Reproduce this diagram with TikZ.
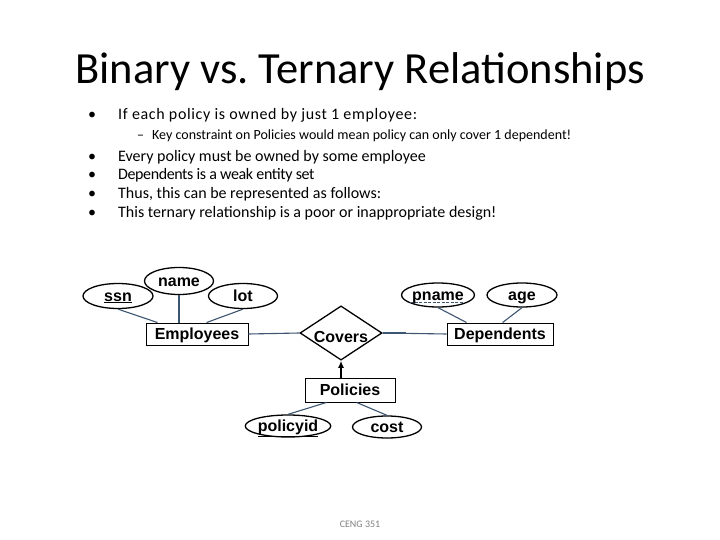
\documentclass[tikz,border=0pt]{standalone}
\usepackage{fontspec}
\setmainfont{Carlito}
\newfontfamily\erfont{Liberation Sans}
\usetikzlibrary{shapes.geometric,arrows.meta,calc}
\definecolor{conn}{RGB}{60,85,112}
\definecolor{footgray}{RGB}{128,128,128}
\tikzset{
  attr/.style={draw=black,line width=1.3pt,ellipse,inner sep=0pt,text height=12pt,text depth=2pt,font=\erfont\bfseries\fontsize{16}{18}\selectfont,minimum width=69pt,minimum height=25pt},
  entity/.style={draw=black,line width=0.9pt,rectangle,inner sep=0pt,text height=12pt,text depth=2pt,font=\erfont\bfseries\fontsize{16}{18}\selectfont,minimum height=22pt},
  rel/.style={draw=black,line width=1.3pt,diamond,inner sep=0pt,font=\erfont\bfseries\fontsize{16}{18}\selectfont,minimum width=82pt,minimum height=53pt},
  link/.style={draw=conn,line width=1.1pt},
  btext/.style={anchor=base west,inner sep=0pt,font=\fontsize{16}{18}\selectfont},
  stext/.style={anchor=base west,inner sep=0pt,font=\fontsize{14}{16}\selectfont},
}
\begin{document}
\begin{tikzpicture}[x=1pt,y=-1pt]
\useasboundingbox (0,0) rectangle (720,540);
% title
\node[anchor=base,inner sep=0pt,font=\fontsize{44.5}{48}\selectfont] (title) at (360,84) {Binary vs.\ Ternary Relationships};
% bullets
\node[btext] (b1d) at (88,120) {•};
\node[btext] (b1) at (118,120) {\addfontfeature{LetterSpace=4}If each policy is owned by just 1 employee:};
\node[stext] (s1d) at (137,140) {–};
\node[stext] (s1) at (152,140) {Key constraint on Policies would mean policy can only cover 1 dependent!};
\node[btext] (b2d) at (88,162) {•};
\node[btext] (b2) at (118,162) {Every policy must be owned by some employee};
\node[btext] (b3d) at (88,180) {•};
\node[btext] (b3) at (118,180) {\addfontfeature{LetterSpace=-2.5}Dependents is a weak entity set};
\node[btext] (b4d) at (88,199) {•};
\node[btext] (b4) at (118,199) {Thus, this can be represented as follows:};
\node[btext] (b5d) at (88,218) {•};
\node[btext] (b5) at (118,218) {This ternary relationship is a poor or inappropriate design!};
% ER diagram
\node[attr,minimum width=70pt] (ssn) at (118,296) {\underline{ssn}};
\node[attr,minimum height=27pt] (name) at (179,281) {name};
\node[attr] (lot) at (243,296) {lot};
\node[entity,minimum width=102pt] (emp) at (197,334) {Employees};
\node[rel] (covers) at (341,333) {\raisebox{-9.5pt}[0pt][0pt]{Covers}};
\node[entity,minimum width=106pt] (dep) at (500,334) {Dependents};
\node[attr,minimum height=24pt] (pname) at (438,295) {pname};
\node[attr,minimum width=70pt,minimum height=24pt] (age) at (522,295) {age};
\node[entity,minimum width=90pt,minimum height=24pt] (pol) at (350,390) {Policies};
\node[attr,minimum width=83pt,minimum height=22pt] (pid) at (288,426) {\underline{policyid}};
\node[attr,minimum height=22pt] (cost) at (387,427) {cost};
\node[anchor=base,inner sep=0pt,font=\fontsize{10}{12}\selectfont,text=footgray] (foot) at (360,527) {CENG 351};
% dashed underline of partial key
\coordinate (pu1) at ($(pname.center)+(-28,7.5)$);
\coordinate (pu2) at ($(pname.center)+(26,7.5)$);
\draw[conn,line width=1.2pt,dash pattern=on 3pt off 1.5pt] (pu1) -- (pu2);
% connector end points
\coordinate (e1) at ($(emp.north west)+(12,0)$);
\coordinate (e3) at ($(emp.north west)+(61,0)$);
\coordinate (d1) at ($(dep.north west)+(20,0)$);
\coordinate (d2) at ($(dep.north west)+(56,0)$);
\coordinate (p1) at ($(pol.south west)+(22,0)$);
\coordinate (p2) at ($(pol.south west)+(52,0)$);
\coordinate (ct) at ($(covers.east)+(23,0)$);
\coordinate (pa) at (covers.south |- pol.north);
% connectors
\draw[link] (ssn.south) -- (e1);
\draw[link] (name.south) -- (name.south |- emp.north);
\draw[link] (lot.south) -- (e3);
\draw[link] (emp.east) -- (covers.west);
\draw[link] (covers.east) -- (dep.west);
\draw[conn,line width=2pt] (covers.east) -- (ct);
\draw[link] (pname.south) -- (d1);
\draw[link] (age.south) -- (d2);
\draw[black,line width=2pt,-{Latex[length=7pt,width=6pt]}] (pa) -- (covers.south);
\draw[link] (p1) -- (pid.north);
\draw[link] (p2) -- (cost.north);
\end{tikzpicture}
\end{document}
